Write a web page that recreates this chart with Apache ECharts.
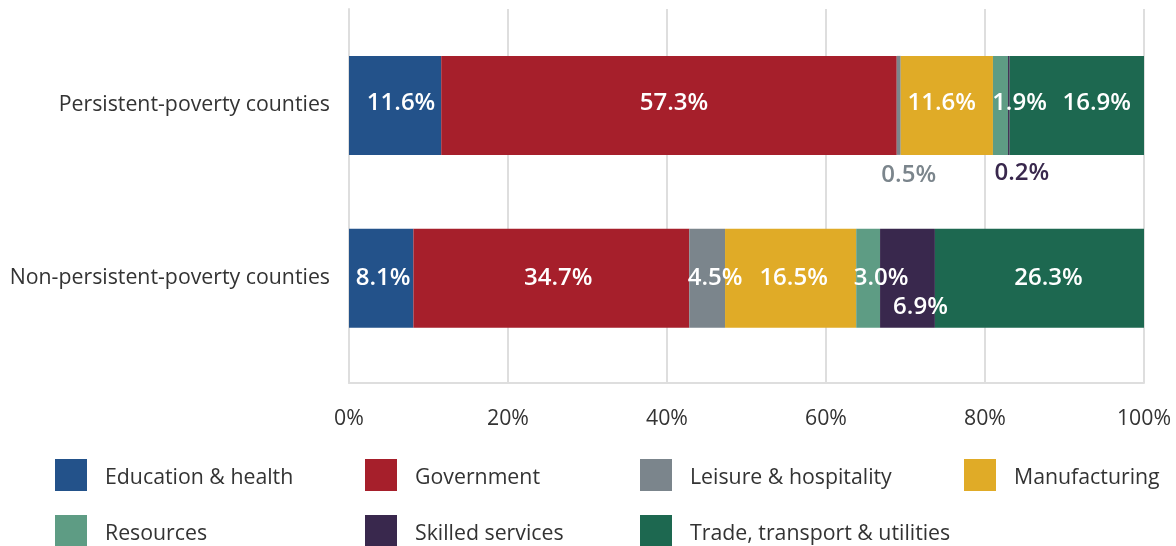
<!DOCTYPE html>
<html>
<head>
<meta charset="utf-8">
<script src="https://cdn.jsdelivr.net/npm/echarts@6/dist/echarts.min.js"></script>
<style>
html,body{margin:0;padding:0;background:#fff;}
#chart{width:1176px;height:546px;}
</style>
</head>
<body>
<div id="chart"></div>
<script>
// ---- data ----
const categories = ['Persistent-poverty counties', 'Non-persistent-poverty counties'];
const sectors = ['Education & health', 'Government', 'Leisure & hospitality', 'Manufacturing', 'Resources', 'Skilled services', 'Trade, transport & utilities'];
const persistentValues = [11.6, 57.3, 0.5, 11.6, 1.9, 0.2, 16.9];
const nonPersistentValues = [8.1, 34.7, 4.5, 16.5, 3.0, 6.9, 26.3];
const xTickValues = [0, 20, 40, 60, 80, 100];

// ---- styling ----
const colors = ['#23528a', '#a61f2b', '#7b858c', '#e0ab27', '#5e9c84', '#39284d', '#1d6850'];
const FONT = 'Open Sans';
const TXT = 21.3;
// label offsets [dx, dy] per category row per sector (styling only)
const labelOffsets = [
  [[6, -2], [5, -2], [10, 70], [-5, -2], [19, -2], [13, 68], [20, -2]],
  [[2, 0], [7, 0], [8, 0], [3, 0], [13, 0], [13, 29], [9, 0]]
];
const labelColors = [
  ['#fff', '#fff', '#7b858c', '#fff', '#fff', '#39284d', '#fff'],
  ['#fff', '#fff', '#fff', '#fff', '#fff', '#fff', '#fff']
];
const legendPos = [
  [55, 459], [365, 459], [640, 459], [964, 459],
  [55, 515], [365, 515], [640, 515]
];

const rows = [persistentValues, nonPersistentValues];

const series = sectors.map((name, si) => ({
  name: name,
  type: 'bar',
  stack: 'total',
  xAxisIndex: 0,
  yAxisIndex: 0,
  barWidth: 99,
  itemStyle: { color: colors[si] },
  label: {
    show: true,
    position: 'inside',
    fontFamily: FONT,
    fontSize: 24,
    fontWeight: 600,
    formatter: p => p.value.toFixed(1) + '%'
  },
  data: rows.map((r, ri) => ({
    value: r[si],
    label: { offset: labelOffsets[ri][si], color: labelColors[ri][si] }
  }))
}));

const legends = sectors.map((name, i) => ({
  data: [name],
  left: legendPos[i][0],
  top: legendPos[i][1],
  padding: 0,
  itemWidth: 32,
  itemHeight: 32,
  icon: 'rect',
  selectedMode: false,
  formatter: '{t|{name}}',
  textStyle: {
    fontFamily: FONT, fontSize: TXT, color: '#333',
    rich: { t: { fontFamily: FONT, fontSize: TXT, color: '#333', padding: [6, 0, 0, 13] } }
  }
}));

const chart = echarts.init(document.getElementById('chart'), null, { renderer: 'canvas' });
chart.setOption({
  animation: false,
  color: colors,
  legend: legends,
  grid: [
    { left: 349, right: 32, top: 19, height: 345.6 },
    { left: 349, right: 32, top: 9, height: 374 }
  ],
  xAxis: [
    { gridIndex: 0, type: 'value', min: 0, max: 100, show: false },
    {
      gridIndex: 1, type: 'value', min: xTickValues[0], max: xTickValues[xTickValues.length - 1],
      interval: xTickValues[1] - xTickValues[0],
      axisLine: { show: true, lineStyle: { color: '#dedede', width: 2 } },
      axisTick: { show: false },
      splitLine: { show: true, lineStyle: { color: '#dedede', width: 2 } },
      axisLabel: { formatter: '{value}%', fontFamily: FONT, fontSize: TXT, color: '#333', margin: 25 }
    }
  ],
  yAxis: [
    {
      gridIndex: 0, type: 'category', data: categories, inverse: true,
      axisLine: { show: false }, axisTick: { show: false }, splitLine: { show: false },
      axisLabel: { fontFamily: FONT, fontSize: TXT, color: '#333', margin: 19 }
    },
    {
      gridIndex: 1, type: 'value', min: 0, max: 1,
      axisLine: { show: true, lineStyle: { color: '#dedede', width: 2 } },
      axisTick: { show: false }, axisLabel: { show: false }, splitLine: { show: false }
    }
  ],
  series: series
});
</script>
</body>
</html>
